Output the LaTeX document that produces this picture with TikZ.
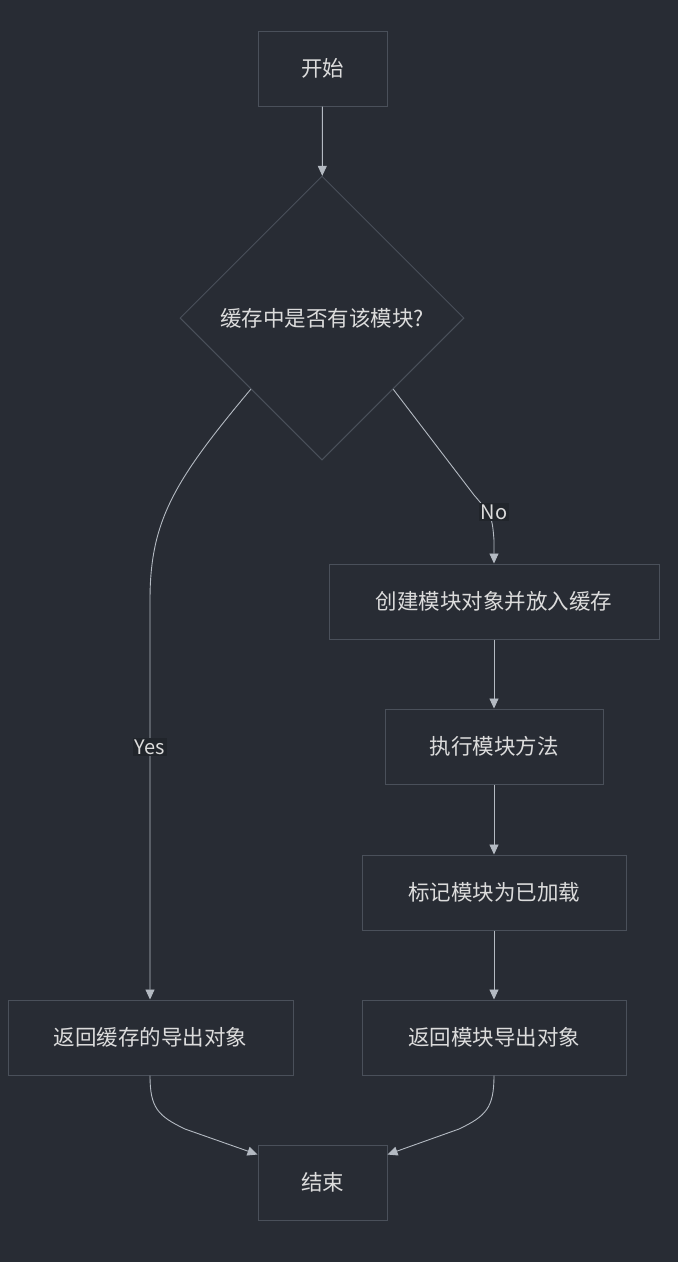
\documentclass[tikz,border=0pt]{standalone}
\usepackage{fontspec}
\setmainfont{Noto Sans CJK SC}
\usetikzlibrary{arrows.meta,shapes.geometric,calc}
\definecolor{bgc}{HTML}{282C34}
\definecolor{boxline}{HTML}{4A505A}
\definecolor{edgec}{HTML}{B4BAC2}
\definecolor{txtc}{HTML}{DCDCDC}
\definecolor{lblbg}{HTML}{21252B}
\tikzset{
  box/.style={draw=boxline, line width=1pt, fill=bgc, text=txtc, inner sep=0pt,
    font=\fontsize{21.5}{24}\selectfont, minimum height=75pt},
  decision/.style={diamond, aspect=1, draw=boxline, line width=1pt, fill=bgc, text=txtc,
    inner sep=0pt, minimum width=284pt, minimum height=284pt, font=\fontsize{21.5}{24}\selectfont},
  flow/.style={draw=edgec, line width=0.9pt, -{Triangle[length=10pt,width=9pt]}},
  lbl/.style={fill=lblbg, text=txtc, inner sep=2pt, font=\fontsize{20}{22}\selectfont}
}
\begin{document}
\begin{tikzpicture}[x=1pt,y=-1pt]
  \fill[bgc] (0,0) rectangle (678,1262);
  \useasboundingbox (0,0) rectangle (678,1262);

  \node[box, minimum width=129pt] (start) at (322.5,68.5) {开始};
  \node[decision] (cache) at (322,318) {缓存中是否有该模块?};
  \node[box, minimum width=330pt] (create) at (494,601.5) {创建模块对象并放入缓存};
  \node[box, minimum width=218pt] (exec) at (494,746.5) {执行模块方法};
  \node[box, minimum width=264pt] (mark) at (494,892.5) {标记模块为已加载};
  \node[box, minimum width=264pt] (retmod) at (494,1037.5) {返回模块导出对象};
  \node[box, minimum width=285pt] (retcache) at (150.5,1037.5) {返回缓存的导出对象};
  \node[box, minimum width=129pt] (finish) at (322.5,1182.5) {结束};

  \draw[flow] (cache.south west) .. controls (175,480) and (150,520) .. (150,600)
    -- (retcache.north -| 150,0);
  \draw[flow] (start) -- (cache);
  \draw[flow] (cache.south east) -- (474,495) .. controls (492,516) .. (494,540)
    -- (create.north);
  \draw[flow] (create) -- (exec);
  \draw[flow] (exec) -- (mark);
  \draw[flow] (mark) -- (retmod);
  \draw[flow] (retcache.south -| 150,0) .. controls (150,1108) and (158,1116) .. (185,1129)
    -- ($(finish.north west)+(0,10)$);
  \draw[flow] (retmod.south) .. controls (494,1108) and (486,1116) .. (459,1129)
    -- ($(finish.north east)+(0,10)$);

  \node[lbl] (yes) at (150,747) {Yes};
  \node[lbl] (no) at (494,512) {No};
\end{tikzpicture}
\end{document}
